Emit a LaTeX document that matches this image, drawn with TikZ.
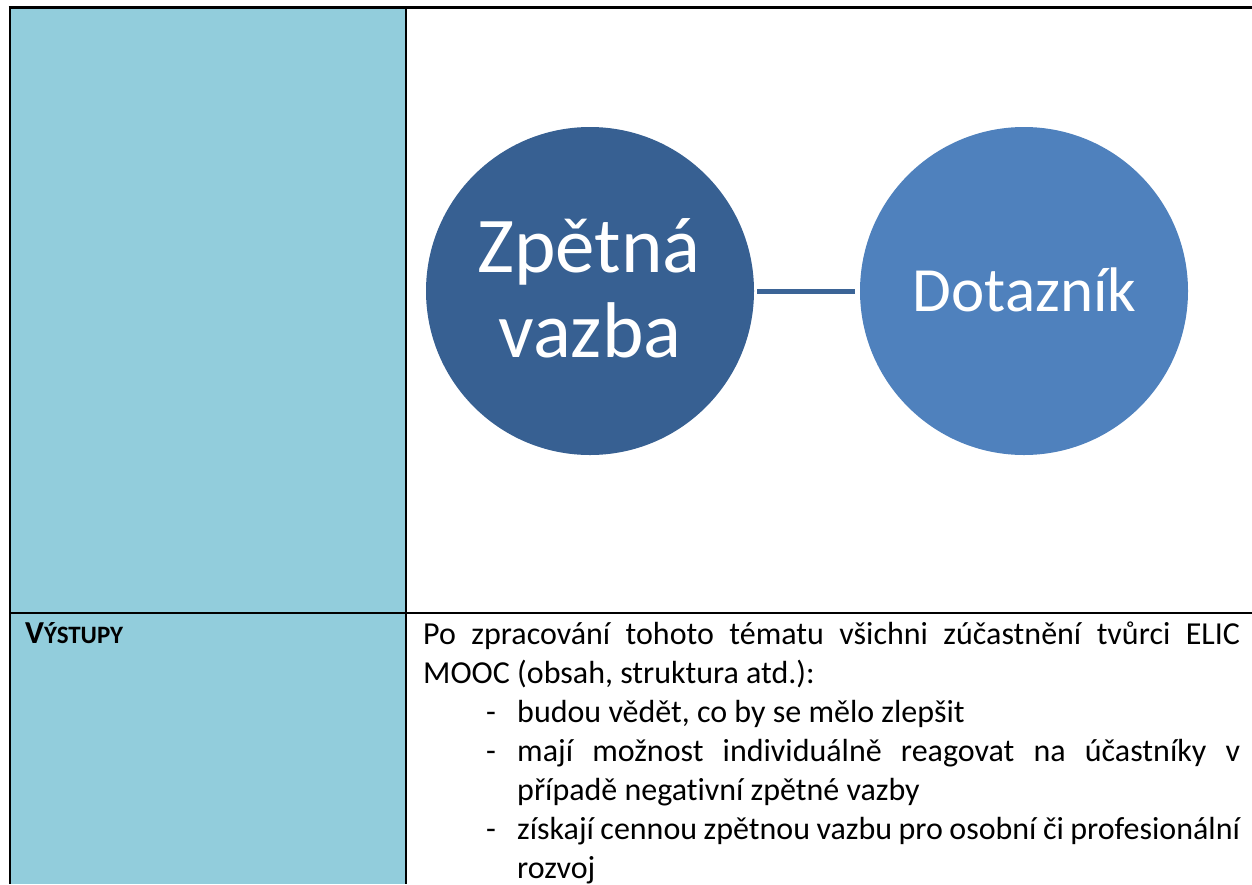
\documentclass[tikz,border=0pt]{standalone}
\usepackage{fontspec}
\setmainfont[Ligatures=NoCommon]{Carlito}
\definecolor{cellcyan}{HTML}{92CDDC}
\definecolor{darkcirc}{HTML}{376092}
\definecolor{lightcirc}{HTML}{4F81BD}
\definecolor{linkblue}{HTML}{3B6496}
\tikzset{
  bubble/.style={circle, inner sep=0pt, minimum size=328pt},
  rule/.style={line width=2.6pt, black},
  bodytext/.style={anchor=base west, inner sep=0pt, font=\fontsize{32}{39}\selectfont},
  bigtext/.style={anchor=base, inner sep=0pt, text=white},
}
\begin{document}
\begin{tikzpicture}[x=1pt, y=-1pt]
  \useasboundingbox (0,0) rectangle (1252,884);
  % left column shading
  \fill[cellcyan] (10,8) rectangle (406,884);
  % table rules
  \draw[rule] (8.7,7.5) -- (1252,7.5);
  \draw[rule] (10,7.5) -- (10,884);
  \draw[rule] (406,7.5) -- (406,884);
  \draw[rule] (10,613) -- (1252,613);

  % diagram in the upper cell
  \node[bubble, fill=darkcirc] (zv) at (590,291) {};
  \node[bubble, fill=lightcirc] (dot) at (1024,291) {};
  \draw[linkblue, line width=5pt, shorten <=3pt, shorten >=5pt] (zv) -- (dot);
  \node[bigtext, font=\fontsize{79}{86}\selectfont] (zvA) at (589,272) {Zpětná};
  \node[bigtext, font=\fontsize{79}{86}\selectfont] (zvB) at (590,357) {vazba};
  \node[bigtext, font=\fontsize{63}{70}\selectfont] (dotT) at (1024.5,311) {Dotazník};

  % lower row
  \node[bodytext, font=\bfseries\fontsize{32}{39}\selectfont] (vyst) at (25,643)
    {V{\fontsize{25}{30}\selectfont ÝSTUPY}};

  \node[bodytext] (l1) at (423,644)
    {\makebox[817pt][s]{Po zpracování tohoto tématu všichni zúčastnění tvůrci ELIC}};
  \node[bodytext] (l2) at (423,683) {MOOC (obsah, struktura atd.):};

  \node[bodytext] (d1) at (486,722) {-};
  \node[bodytext] (l3) at (517,722) {budou vědět, co by se mělo zlepšit};
  \node[bodytext] (d2) at (486,761) {-};
  \node[bodytext] (l4) at (517,761)
    {\makebox[723pt][s]{mají možnost individuálně reagovat na účastníky v}};
  \node[bodytext] (l5) at (517,800) {případě negativní zpětné vazby};
  \node[bodytext] (d3) at (486,839) {-};
  \node[bodytext] (l6) at (517,839)
    {\makebox[723pt][s]{získají cennou zpětnou vazbu pro osobní či profesionální}};
  \node[bodytext] (l7) at (517,878) {rozvoj};
\end{tikzpicture}
\end{document}
